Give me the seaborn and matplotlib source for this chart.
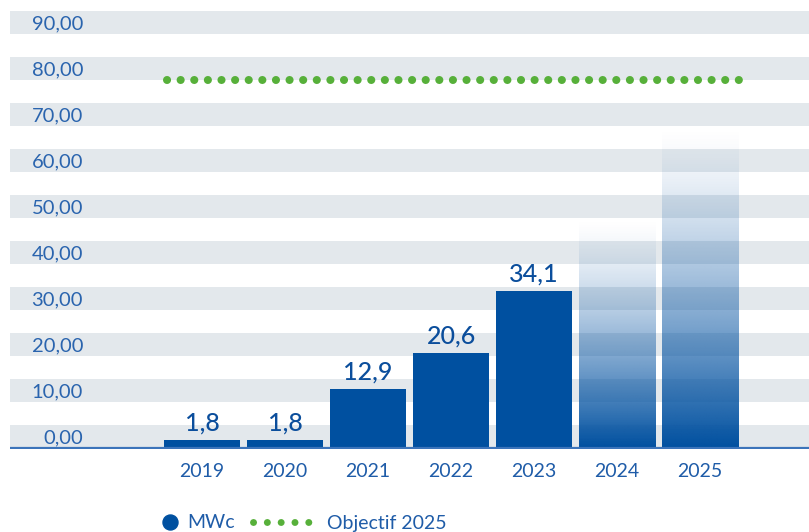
import numpy as np
import matplotlib
matplotlib.use("Agg")
import matplotlib.pyplot as plt
from matplotlib.lines import Line2D
import seaborn as sns

years = ["2019", "2020", "2021", "2022", "2023", "2024", "2025"]
mwc = [1.8, 1.8, 12.9, 20.6, 34.1, 50.0, 70.0]
value_labels = ["1,8", "1,8", "12,9", "20,6", "34,1", "", ""]
projected = [False, False, False, False, False, True, True]
objectif = 80
band_starts = [0, 10, 20, 30, 40, 50, 60, 70, 80, 90]
band_labels = ["0,00", "10,00", "20,00", "30,00", "40,00",
               "50,00", "60,00", "70,00", "80,00", "90,00"]

BLUE = "#0050A0"
GREEN = "#57B03A"
STRIPE = "#E3E8EC"
TXT = "#1F5CA8"

sns.set_theme(style="white")
plt.rcParams["font.family"] = ["Lato", "DejaVu Sans"]

fig = plt.figure(figsize=(8.09, 5.32), dpi=100)
ax = fig.add_axes([10 / 809, 0.1553, 799 / 809, 0.8447])

# grey bands behind each label
for v in band_starts:
    ax.axhspan(v, v + 5, color=STRIPE, lw=0, zorder=0)

sns.barplot(x=years, y=mwc, color=BLUE, width=0.916, saturation=1,
            errorbar=None, ax=ax, zorder=2, linewidth=0, edgecolor="none")

bars = ax.containers[0]
ax.bar_label(bars, labels=value_labels, padding=4, fontsize=18,
             color="#0B4E9C", fontweight="medium")

# fading bars for the projected years
rgb = matplotlib.colors.to_rgb(BLUE)
t = np.linspace(0, 1, 256)[:, None]
grad = np.zeros((256, 1, 4))
grad[..., 0], grad[..., 1], grad[..., 2] = rgb
grad[..., 3] = t ** 1.35
for p, proj in zip(bars.patches, projected):
    if proj:
        p.set_alpha(0)
        x0, w, h = p.get_x(), p.get_width(), p.get_height()
        ax.imshow(grad, extent=(x0, x0 + w, 0, h), aspect="auto",
                  interpolation="bilinear", zorder=2)

# target line
first, last = bars.patches[0], bars.patches[-1]
ax.plot([first.get_x() + 0.04, last.get_x() + last.get_width() + 0.02],
        [objectif, objectif], color=GREEN, lw=5.8,
        linestyle=(0, (0.01, 1.68)), dash_capstyle="round", zorder=3)

ax.axhline(0, color="#3C74BA", lw=1.6, zorder=3)

ax.set_xlim(-2.313, 7.313)
ax.set_ylim(-0.3, 97.4)
ax.set_yticks([v + 2.5 for v in band_starts], labels=band_labels)
ax.tick_params(axis="y", length=0, pad=-52.6, labelsize=14.5, labelcolor="#2A64AE")
ax.tick_params(axis="x", length=0, pad=10, labelsize=14, labelcolor=TXT)
ax.set_xlabel("")
ax.set_ylabel("")
for s in ax.spines.values():
    s.set_visible(False)

# legend
h1 = Line2D([], [], marker="o", color=BLUE, linestyle="none", markersize=10.8)
fig.legend([h1], ["MWc"], loc="center left",
           bbox_to_anchor=(160 / 809, 1 - 523 / 532), frameon=False,
           borderpad=0, borderaxespad=0, handlelength=1.0,
           handletextpad=0.39, fontsize=14, labelcolor=TXT)
h2 = Line2D([], [], color=GREEN, lw=5, linestyle=(0, (0.01, 1.98)),
            dash_capstyle="round")
fig.legend([h2], ["Objectif 2025"], loc="center left",
           bbox_to_anchor=(253 / 809, 1 - 523 / 532), frameon=False,
           borderpad=0, borderaxespad=0, handlelength=2.9,
           handletextpad=0.9, fontsize=14, labelcolor=TXT)

fig.savefig("out.png", dpi=100)
